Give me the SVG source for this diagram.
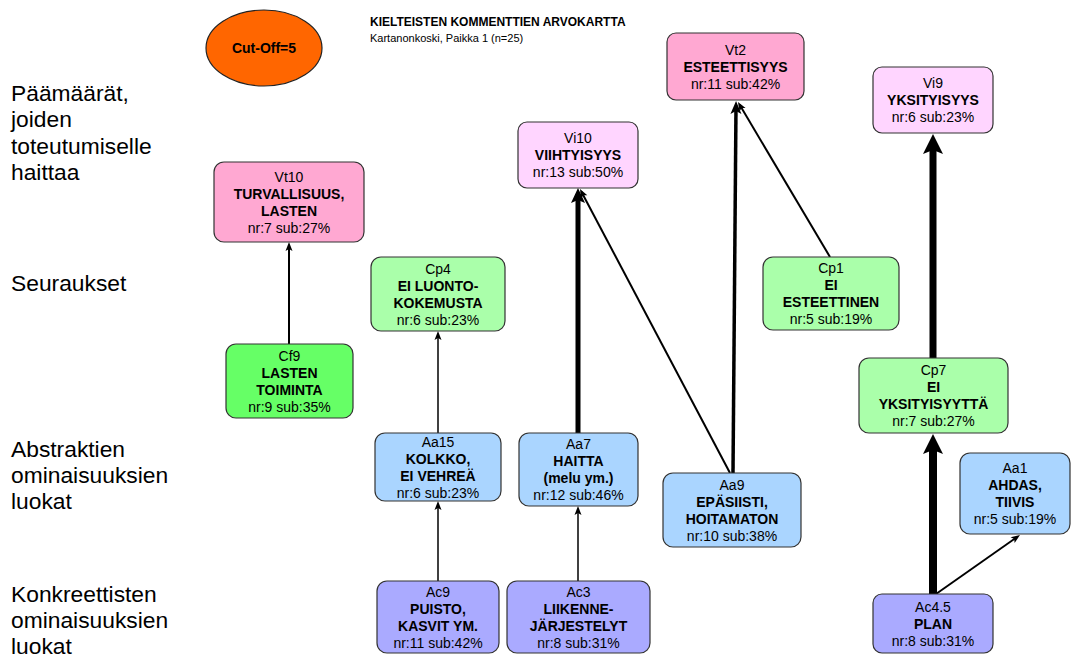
<svg xmlns="http://www.w3.org/2000/svg" width="1074" height="663" viewBox="0 0 1074 663">
<style>
text{font-family:"Liberation Sans",Arial,sans-serif;fill:#000}
.n{font-size:14px;text-anchor:middle}
.b{font-weight:bold}
.lbl{font-size:22.8px}
.box{stroke:#333;stroke-width:1.2}
.vt{fill:#FFA8D2}.vi{fill:#FFD5FF}.cp{fill:#AAFFAA}.cf{fill:#66FF66}.aa{fill:#AAD5FF}.ac{fill:#AAAAFF}
.c{stroke:#000;fill:none;stroke-linecap:butt}
</style>
<defs>
<marker id="a1" markerUnits="userSpaceOnUse" markerWidth="20" markerHeight="20" viewBox="-10 -10 20 20" refX="0" refY="0" orient="auto"><path d="M3,0 L-6,-3.5 L-4,0 L-6,3.5 Z" fill="#000"/></marker>
<marker id="a2" markerUnits="userSpaceOnUse" markerWidth="24" markerHeight="24" viewBox="-12 -12 24 24" refX="0" refY="0" orient="auto"><path d="M5,0 L-8,-5.5 L-5,0 L-8,5.5 Z" fill="#000"/></marker>
<marker id="a3" markerUnits="userSpaceOnUse" markerWidth="24" markerHeight="24" viewBox="-12 -12 24 24" refX="0" refY="0" orient="auto"><path d="M6,0 L-9,-7 L-6,0 L-9,7 Z" fill="#000"/></marker>
<marker id="a4" markerUnits="userSpaceOnUse" markerWidth="30" markerHeight="30" viewBox="-15 -15 30 30" refX="0" refY="0" orient="auto"><path d="M10,0 L-10,-10 L-6,0 L-10,10 Z" fill="#000"/></marker>
</defs>
<rect width="1074" height="663" fill="#fff"/>

<g id="header">
<ellipse cx="264" cy="48" rx="58" ry="38" fill="#FF6600" stroke="#222" stroke-width="1.2"/>
<text x="264" y="53" class="n b">Cut-Off=5</text>
<text x="370" y="26" font-size="12" font-weight="bold">KIELTEISTEN KOMMENTTIEN ARVOKARTTA</text>
<text x="370" y="42" font-size="11">Kartanonkoski, Paikka 1 (n=25)</text>
</g>

<g id="levels" class="lbl">
<text x="11" y="101">Päämäärät,</text>
<text x="11" y="127">joiden</text>
<text x="11" y="153.5">toteutumiselle</text>
<text x="11" y="180">haittaa</text>
<text x="11" y="291">Seuraukset</text>
<text x="11" y="457">Abstraktien</text>
<text x="11" y="483">ominaisuuksien</text>
<text x="11" y="509">luokat</text>
<text x="11" y="602">Konkreettisten</text>
<text x="11" y="628">ominaisuuksien</text>
<text x="11" y="654">luokat</text>
</g>

<g id="connectors">
<line class="c" x1="289" y1="344" x2="289" y2="245" stroke-width="2" marker-end="url(#a1)"/>
<line class="c" x1="438" y1="433" x2="438" y2="334" stroke-width="1.5" marker-end="url(#a1)"/>
<line class="c" x1="438" y1="581" x2="438" y2="504" stroke-width="1.5" marker-end="url(#a1)"/>
<line class="c" x1="578" y1="433" x2="578" y2="194" stroke-width="5" marker-end="url(#a3)"/>
<line class="c" x1="578" y1="581" x2="578" y2="509" stroke-width="1.5" marker-end="url(#a1)"/>
<line class="c" x1="730" y1="473" x2="581.4" y2="191.7" stroke-width="2" marker-end="url(#a1)"/>
<line class="c" x1="733" y1="473" x2="736" y2="106" stroke-width="3.5" marker-end="url(#a2)"/>
<line class="c" x1="830" y1="257" x2="739.5" y2="104.6" stroke-width="2" marker-end="url(#a1)"/>
<line class="c" x1="933" y1="358" x2="933" y2="144" stroke-width="7" marker-end="url(#a4)"/>
<line class="c" x1="933" y1="594" x2="933" y2="444" stroke-width="8" marker-end="url(#a4)"/>
<line class="c" x1="936" y1="594" x2="1017.5" y2="536.7" stroke-width="2" marker-end="url(#a1)"/>
</g>

<g id="Vt2"><rect class="box vt" x="667" y="33" width="137" height="67" rx="9"/>
<text class="n"><tspan x="735.5" y="54.5">Vt2</tspan><tspan x="735.5" y="71.5" class="b">ESTEETTISYYS</tspan><tspan x="735.5" y="88.5">nr:11 sub:42%</tspan></text></g>

<g id="Vi9"><rect class="box vi" x="873" y="67" width="120" height="66" rx="9"/>
<text class="n"><tspan x="933" y="88">Vi9</tspan><tspan x="933" y="105" class="b">YKSITYISYYS</tspan><tspan x="933" y="122">nr:6 sub:23%</tspan></text></g>

<g id="Vi10"><rect class="box vi" x="518" y="122" width="120" height="66" rx="9"/>
<text class="n"><tspan x="578" y="143">Vi10</tspan><tspan x="578" y="160" class="b">VIIHTYISYYS</tspan><tspan x="578" y="177">nr:13 sub:50%</tspan></text></g>

<g id="Vt10"><rect class="box vt" x="214" y="162" width="150" height="80" rx="10"/>
<text class="n"><tspan x="289" y="181.5">Vt10</tspan><tspan x="289" y="198.5" class="b">TURVALLISUUS,</tspan><tspan x="289" y="215.5" class="b">LASTEN</tspan><tspan x="289" y="232.5">nr:7 sub:27%</tspan></text></g>

<g id="Cp4"><rect class="box cp" x="371" y="257" width="134" height="74" rx="10"/>
<text class="n"><tspan x="438" y="273.5">Cp4</tspan><tspan x="438" y="290.5" class="b">EI LUONTO-</tspan><tspan x="438" y="307.5" class="b">KOKEMUSTA</tspan><tspan x="438" y="324.5">nr:6 sub:23%</tspan></text></g>

<g id="Cp1"><rect class="box cp" x="763" y="257" width="136" height="73" rx="10"/>
<text class="n"><tspan x="831" y="273">Cp1</tspan><tspan x="831" y="290" class="b">EI</tspan><tspan x="831" y="307" class="b">ESTEETTINEN</tspan><tspan x="831" y="324">nr:5 sub:19%</tspan></text></g>

<g id="Cp7"><rect class="box cp" x="859" y="358" width="149" height="75" rx="10"/>
<text class="n"><tspan x="933.5" y="375">Cp7</tspan><tspan x="933.5" y="392" class="b">EI</tspan><tspan x="933.5" y="409" class="b">YKSITYISYYTTÄ</tspan><tspan x="933.5" y="426">nr:7 sub:27%</tspan></text></g>

<g id="Cf9"><rect class="box cf" x="226" y="344" width="127" height="74" rx="10"/>
<text class="n"><tspan x="289.5" y="360.5">Cf9</tspan><tspan x="289.5" y="377.5" class="b">LASTEN</tspan><tspan x="289.5" y="394.5" class="b">TOIMINTA</tspan><tspan x="289.5" y="411.5">nr:9 sub:35%</tspan></text></g>

<g id="Aa15"><rect class="box aa" x="375" y="433" width="126" height="68" rx="10"/>
<text class="n"><tspan x="438" y="446.5">Aa15</tspan><tspan x="438" y="463.5" class="b">KOLKKO,</tspan><tspan x="438" y="480.5" class="b">EI VEHREÄ</tspan><tspan x="438" y="497.5">nr:6 sub:23%</tspan></text></g>

<g id="Aa7"><rect class="box aa" x="519" y="433" width="119" height="73" rx="10"/>
<text class="n"><tspan x="578.5" y="449">Aa7</tspan><tspan x="578.5" y="466" class="b">HAITTA</tspan><tspan x="578.5" y="483" class="b">(melu ym.)</tspan><tspan x="578.5" y="500">nr:12 sub:46%</tspan></text></g>

<g id="Aa9"><rect class="box aa" x="663" y="473" width="138" height="74" rx="10"/>
<text class="n"><tspan x="732" y="489.5">Aa9</tspan><tspan x="732" y="506.5" class="b">EPÄSIISTI,</tspan><tspan x="732" y="523.5" class="b">HOITAMATON</tspan><tspan x="732" y="540.5">nr:10 sub:38%</tspan></text></g>

<g id="Aa1"><rect class="box aa" x="960" y="453" width="110" height="81" rx="10"/>
<text class="n"><tspan x="1015" y="473">Aa1</tspan><tspan x="1015" y="490" class="b">AHDAS,</tspan><tspan x="1015" y="507" class="b">TIIVIS</tspan><tspan x="1015" y="524">nr:5 sub:19%</tspan></text></g>

<g id="Ac4_5"><rect class="box ac" x="873" y="594" width="120" height="59" rx="9"/>
<text class="n"><tspan x="933" y="611.5">Ac4.5</tspan><tspan x="933" y="628.5" class="b">PLAN</tspan><tspan x="933" y="645.5">nr:8 sub:31%</tspan></text></g>

<g id="Ac9"><rect class="box ac" x="377" y="581" width="122" height="72" rx="10"/>
<text class="n"><tspan x="438" y="596.5">Ac9</tspan><tspan x="438" y="613.5" class="b">PUISTO,</tspan><tspan x="438" y="630.5" class="b">KASVIT YM.</tspan><tspan x="438" y="647.5">nr:11 sub:42%</tspan></text></g>

<g id="Ac3"><rect class="box ac" x="507" y="581" width="143" height="72" rx="10"/>
<text class="n"><tspan x="578.5" y="596.5">Ac3</tspan><tspan x="578.5" y="613.5" class="b">LIIKENNE-</tspan><tspan x="578.5" y="630.5" class="b">JÄRJESTELYT</tspan><tspan x="578.5" y="647.5">nr:8 sub:31%</tspan></text></g>
</svg>
